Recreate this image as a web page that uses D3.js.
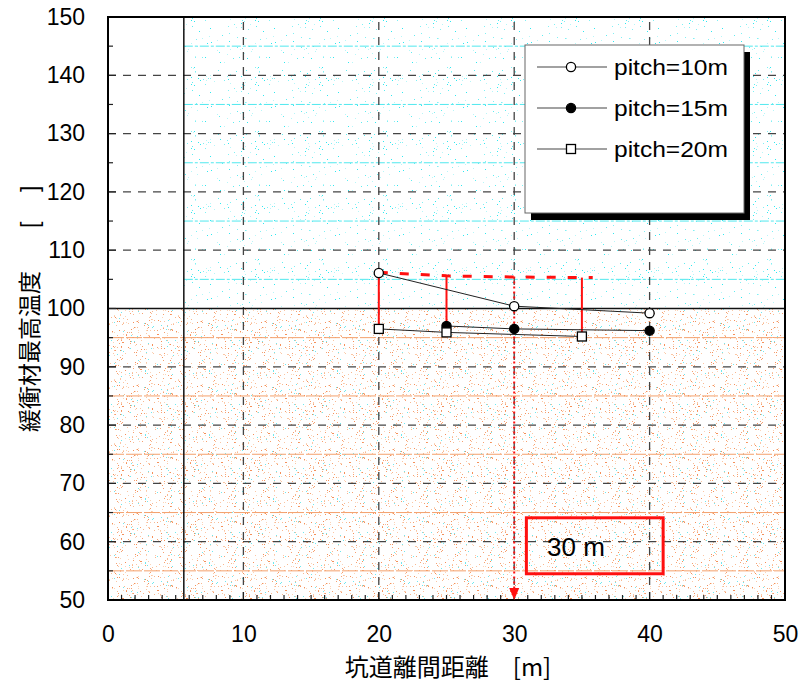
<!DOCTYPE html>
<html><head><meta charset="utf-8">
<script src="https://cdn.jsdelivr.net/npm/d3@7"></script>
<style>body{margin:0;background:#fff}svg{display:block}</style>
</head><body>
<svg id="c" width="802" height="683"></svg>
<script>
// ---- data ----
const xTicks = [0, 10, 20, 30, 40, 50];
const yTicks = [50, 60, 70, 80, 90, 100, 110, 120, 130, 140, 150];
const seriesNames = ["pitch=10m", "pitch=15m", "pitch=20m"];
const pitch10X = [20, 30, 40];
const pitch10Y = [106.1, 100.4, 99.2];
const pitch15X = [25, 30, 40];
const pitch15Y = [97.0, 96.5, 96.2];
const pitch20X = [20, 25, 35];
const pitch20Y = [96.5, 95.9, 95.2];
const envelopeX = [20, 25, 30, 35.8];
const envelopeY = [106.2, 105.6, 105.4, 105.3];
const dropX = [20, 25, 35];
const dropTop = [106.1, 105.6, 105.3];
const dropBottom = [96.5, 97.0, 95.2];
const markerX = 30, markerTop = 105.5;
const boundaryX = 5.6, limitY = 100;
const boxLabel = "30 m";
const boxX = [30.9, 41.0], boxY = [64.1, 54.5];
const xTitle = "坑道離間距離　[m]";
const yTitle = "緩衝材最高温度";

// ---- chart ----
const svg = d3.select("#c");
const x = d3.scaleLinear([0, 50], [108, 785]);
const y = d3.scaleLinear([50, 150], [600, 17]);
const FONT = "'Liberation Sans', Arial, sans-serif";
const CJK = "'Noto Sans CJK JP', sans-serif";

// textures
const defs = svg.append("defs");
function texture(id, colors, count, seed) {
  const p = defs.append("pattern").attr("id", id).attr("patternUnits", "userSpaceOnUse")
    .attr("width", 64).attr("height", 64);
  p.append("rect").attr("width", 64).attr("height", 64).attr("fill", "#fff");
  let s = seed;
  const nxt = () => { s = (s * 1103515245 + 12345) & 0x7fffffff; return s / 0x7fffffff; };
  for (let i = 0; i < count; i++) {
    p.append("rect").attr("x", Math.floor(nxt() * 64)).attr("y", Math.floor(nxt() * 64))
      .attr("width", 1).attr("height", 1).attr("fill", colors[Math.floor(nxt() * colors.length)]);
  }
}
texture("cyanTex", ["#30e8f0", "#80f0f4", "#b8f6f8", "#60ecf0"], 80, 7);
texture("orangeTex", ["#f6a070", "#f8b890", "#f4905a", "#fcd4b8", "#fbc6a4", "#70e8ee"], 300, 11);

svg.append("rect").attr("x", x(boundaryX)).attr("y", y(150)).attr("width", x(50) - x(boundaryX))
  .attr("height", y(limitY) - y(150)).attr("fill", "url(#cyanTex)");
svg.append("rect").attr("x", x(0)).attr("y", y(limitY)).attr("width", x(50) - x(0))
  .attr("height", y(50) - y(limitY)).attr("fill", "url(#orangeTex)");

// minor grid lines (5-unit)
const minorY = d3.range(55, 150, 10);
svg.append("g").selectAll("line").data(minorY).join("line")
  .attr("x1", d => d > limitY ? x(boundaryX) : x(0)).attr("x2", x(50))
  .attr("y1", d => y(d)).attr("y2", d => y(d))
  .attr("stroke", d => d > limitY ? "#50e8ee" : "#f4a06c")
  .attr("stroke-width", 1).attr("stroke-dasharray", d => d > limitY ? "9,2,3,2" : "16,2");

// major grid
const grid = svg.append("g").attr("stroke", "#444").attr("stroke-width", 1.3).attr("stroke-dasharray", "8,7");
grid.selectAll(".gy").data(yTicks.filter(d => d > 50 && d < 150 && d !== limitY)).join("line")
  .attr("x1", x(0)).attr("x2", x(50)).attr("y1", d => y(d)).attr("y2", d => y(d));
grid.selectAll(".gx").data(xTicks.filter(d => d > 0 && d < 50)).join("line")
  .attr("y1", y(50)).attr("y2", y(150)).attr("x1", d => x(d)).attr("x2", d => x(d));

// boundary lines
svg.append("line").attr("x1", x(0)).attr("x2", x(50)).attr("y1", y(limitY)).attr("y2", y(limitY))
  .attr("stroke", "#111").attr("stroke-width", 1.5);
svg.append("line").attr("x1", x(boundaryX)).attr("x2", x(boundaryX)).attr("y1", y(50)).attr("y2", y(150))
  .attr("stroke", "#111").attr("stroke-width", 1.5);

// ticks
const tk = svg.append("g").attr("stroke", "#222").attr("stroke-width", 1.2);
tk.selectAll(".mx").data(d3.range(0, 51, 1)).join("line")
  .attr("x1", d => x(d)).attr("x2", d => x(d)).attr("y1", y(50))
  .attr("y2", d => y(50) - (d % 10 === 0 ? 8 : 5));
tk.selectAll(".my").data(d3.range(50, 151, 5)).join("line")
  .attr("y1", d => y(d)).attr("y2", d => y(d)).attr("x1", x(0))
  .attr("x2", d => x(0) + (d % 10 === 0 ? 8 : 5));

// frame
svg.append("rect").attr("x", x(0)).attr("y", y(150)).attr("width", x(50) - x(0))
  .attr("height", y(50) - y(150)).attr("fill", "none").attr("stroke", "#000").attr("stroke-width", 2);

// axes labels (via d3 axes)
const xa = svg.append("g").attr("transform", `translate(0,${y(50)})`)
  .call(d3.axisBottom(x).tickValues(xTicks).tickSize(0).tickPadding(26).tickFormat(d3.format("d")));
const ya = svg.append("g").attr("transform", `translate(${x(0)},0)`)
  .call(d3.axisLeft(y).tickValues(yTicks).tickSize(0).tickPadding(23).tickFormat(d3.format("d")));
[xa, ya].forEach(a => {
  a.select(".domain").remove();
  a.selectAll("text").attr("font-family", FONT).attr("font-size", 23).attr("fill", "#000");
});

// axis titles
svg.append("text").attr("x", 448).attr("y", 676).attr("text-anchor", "middle")
  .attr("font-family", CJK).attr("font-size", 24).attr("fill", "#000").text(xTitle);
const yt = svg.append("g").attr("transform", "translate(38,432) rotate(-90)");
yt.append("text").attr("x", 0).attr("y", 0).attr("font-family", CJK).attr("font-size", 23).attr("fill", "#000").text(yTitle);
yt.append("text").attr("x", 204).attr("y", 0).attr("font-family", FONT).attr("font-size", 23).attr("fill", "#000").text("[");
yt.append("text").attr("x", 240).attr("y", 0).attr("font-family", FONT).attr("font-size", 23).attr("fill", "#000").text("]");

// red annotations
const red = "#ff1010";
svg.append("path").datum(envelopeX.map((d, i) => [d, envelopeY[i]]))
  .attr("d", d3.line().x(d => x(d[0])).y(d => y(d[1])))
  .attr("fill", "none").attr("stroke", red).attr("stroke-width", 3).attr("stroke-dasharray", "9,12");
svg.append("g").selectAll("line").data(dropX).join("line")
  .attr("x1", d => x(d)).attr("x2", d => x(d))
  .attr("y1", (d, i) => y(dropTop[i])).attr("y2", (d, i) => y(dropBottom[i]))
  .attr("stroke", red).attr("stroke-width", 2);
svg.append("line").attr("x1", x(markerX)).attr("x2", x(markerX)).attr("y1", y(markerTop)).attr("y2", y(50) - 8)
  .attr("stroke", red).attr("stroke-width", 2).attr("stroke-dasharray", "2,3");
svg.append("path").attr("d", `M${x(markerX) - 5},${y(50) - 12} L${x(markerX) + 5},${y(50) - 12} L${x(markerX)},${y(50)} Z`)
  .attr("fill", red);

// series
const series = [
  {xs: pitch10X, ys: pitch10Y, mark: "circle", fill: "#fff"},
  {xs: pitch15X, ys: pitch15Y, mark: "circle", fill: "#000"},
  {xs: pitch20X, ys: pitch20Y, mark: "square", fill: "#fff"}
];
const line = d3.line().x(d => x(d[0])).y(d => y(d[1]));
function drawMarker(g, m, fill, cx, cy) {
  if (m === "circle") g.append("circle").attr("cx", cx).attr("cy", cy).attr("r", 4.6)
    .attr("fill", fill).attr("stroke", "#000").attr("stroke-width", 1.3);
  else g.append("rect").attr("x", cx - 4.5).attr("y", cy - 4.5).attr("width", 9).attr("height", 9)
    .attr("fill", fill).attr("stroke", "#000").attr("stroke-width", 1.3);
}
series.forEach(s => {
  const pts = s.xs.map((d, i) => [d, s.ys[i]]);
  svg.append("path").datum(pts).attr("d", line).attr("fill", "none").attr("stroke", "#222").attr("stroke-width", 1);
  const g = svg.append("g");
  pts.forEach(p => drawMarker(g, s.mark, s.fill, x(p[0]), y(p[1])));
});

// 30 m box
svg.append("rect").attr("x", x(boxX[0])).attr("y", y(boxY[0])).attr("width", x(boxX[1]) - x(boxX[0]))
  .attr("height", y(boxY[1]) - y(boxY[0])).attr("fill", "none").attr("stroke", red).attr("stroke-width", 3);
svg.append("text").attr("x", 547).attr("y", 556).attr("font-family", FONT).attr("font-size", 26)
  .attr("fill", "#000").text(boxLabel);

// legend
const lg = svg.append("g");
lg.append("rect").attr("x", 531).attr("y", 52).attr("width", 219).attr("height", 168).attr("fill", "#000");
lg.append("rect").attr("x", 525).attr("y", 45).attr("width", 219).attr("height", 168).attr("fill", "#fff")
  .attr("stroke", "#666").attr("stroke-width", 1);
seriesNames.forEach((n, i) => {
  const ry = 67 + i * 41;
  lg.append("line").attr("x1", 537).attr("x2", 607).attr("y1", ry).attr("y2", ry).attr("stroke", "#444").attr("stroke-width", 1.2);
  drawMarker(lg, series[i].mark, series[i].fill, 571, ry);
  lg.append("text").attr("x", 614).attr("y", ry + 8).attr("font-family", FONT).attr("font-size", 22)
    .attr("textLength", 114).attr("lengthAdjust", "spacingAndGlyphs")
    .attr("fill", "#000").text(n);
});
</script>
</body></html>
